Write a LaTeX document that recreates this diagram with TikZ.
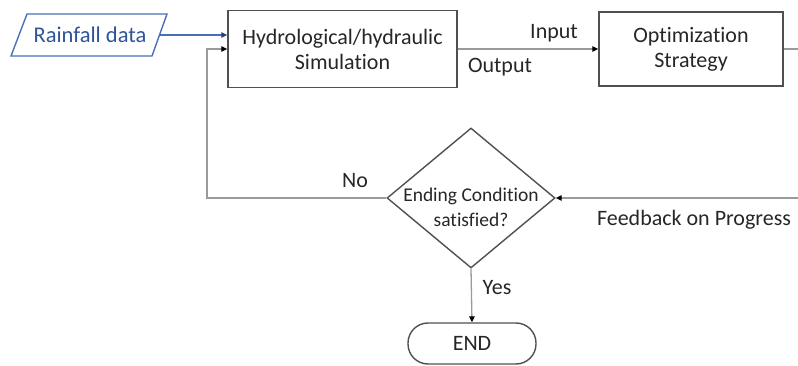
\documentclass[tikz,border=0pt]{standalone}
\usepackage{fontspec}
\setmainfont{Carlito}[Ligatures=NoCommon]
\usetikzlibrary{arrows.meta,shapes.geometric}
\definecolor{ink}{HTML}{262626}
\definecolor{frame}{HTML}{505050}
\definecolor{wire}{HTML}{9A9A9A}
\definecolor{rainblue}{HTML}{2F5597}
\definecolor{rainedge}{HTML}{4A6FB5}
\begin{document}
\begin{tikzpicture}[x=1pt,y=-1pt,
  txt/.style={font=\fontsize{22}{26}\selectfont, text=ink, inner sep=0pt},
  procbox/.style={draw=frame, line width=1.4pt, rectangle, inner sep=0pt,
    font=\fontsize{22}{25}\selectfont, text=ink, align=center},
  decision/.style={draw=frame, line width=1.4pt, diamond, inner sep=0pt},
  terminal/.style={draw=frame, line width=1.4pt, rectangle, rounded corners=20pt,
    inner sep=0pt, font=\fontsize{22}{26}\selectfont, text=ink},
  conn/.style={draw=wire, line width=1.3pt},
  flow/.style={conn, -{Triangle[length=6pt,width=5.5pt,color=black]}},
  rainflow/.style={draw=rainedge, line width=1.3pt,
    -{Triangle[length=6pt,width=5.5pt,color=rainblue!80!black]}}
]
\useasboundingbox (0,0) rectangle (798,366);

% input data (parallelogram)
\node[txt, text=rainblue, font=\fontsize{22.5}{26}\selectfont] (rain) at (90,35) {Rainfall data};
\draw[draw=rainedge, line width=1.4pt] (27,14) -- (167,14) -- (152,56) -- (11,56) -- cycle;
\coordinate (rainout) at (160,35);

% process boxes
\node[procbox, minimum width=229pt, minimum height=77pt] (sim) at (342.5,49)
  {Hydrological/hydraulic\\Simulation};
\node[procbox, minimum width=184pt, minimum height=74pt] (opt) at (691,49)
  {Optimization\\Strategy};

% decision
\node[decision, minimum width=168pt, minimum height=140pt] (cond) at (471,198) {};
\node[txt, align=center, font=\fontsize{19.5}{25}\selectfont] (condtxt) at (471,207)
  {Ending Condition\\satisfied?};

% terminal
\node[terminal, minimum width=128pt, minimum height=41pt] (end) at (472,343.5) {END};

% helper points
\coordinate (loop) at (207,49);
\coordinate (exit) at (798,49);
\coordinate (feed) at (798,198);

% connectors
\draw[rainflow] (rainout) -- (rainout -| sim.west);
\draw[flow] (cond.west) -| (loop) -- (loop -| sim.west);
\draw[flow] (sim.east) -- (opt.west);
\draw[conn] (opt.east) -- (exit);
\draw[flow] (feed) -- (cond.east);
\draw[flow] (cond.south) -- (end.north);

% labels
\node[txt] (lin) at (554,33) {Input};
\node[txt] (lout) at (500,67) {Output};
\node[txt] (lno) at (355,181) {No};
\node[txt] (lfeed) at (694,220) {Feedback on Progress};
\node[txt] (lyes) at (497,288) {Yes};
\end{tikzpicture}
\end{document}
